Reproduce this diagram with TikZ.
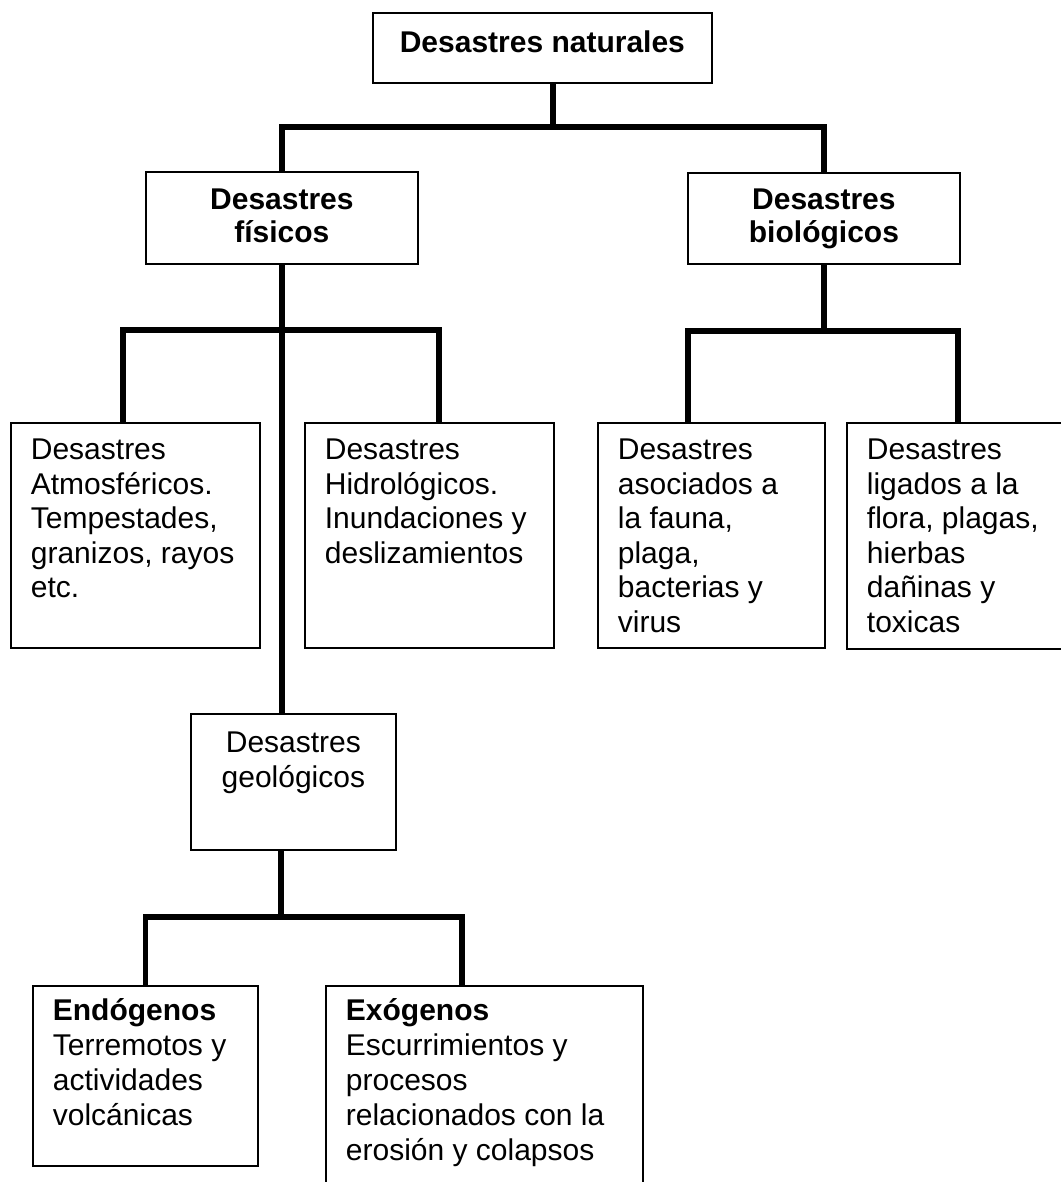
\documentclass[tikz,border=0pt]{standalone}
\usepackage{fontspec}
\setmainfont{Liberation Sans}
\newcommand{\boxtextL}[4]{\parbox[c][#2pt][t]{#1pt}{\raggedright\leftskip=20pt\rule{0pt}{#3pt}#4}}
\newcommand{\boxtextC}[4]{\parbox[c][#2pt][t]{#1pt}{\centering\rule{0pt}{#3pt}#4}}
\begin{document}
\begin{tikzpicture}[x=1pt,y=-1pt,
  every node/.style={font=\fontsize{30}{34.5}\selectfont},
  box/.style={draw, line width=1.8pt, inner sep=0pt, anchor=north west},
  conn/.style={line width=5.5pt, line join=miter}]
\useasboundingbox (0,0) rectangle (1060,1182);
\fill[white] (0,0) rectangle (1060,1182);

% boxes
\node[box] (top) at (372,12) {\boxtextC{339}{70}{40}{\bfseries Desastres naturales}};
\node[box] (fis) at (145,171) {\boxtextC{272}{92}{38}{\bfseries\baselineskip=33pt Desastres\\ físicos}};
\node[box] (bio) at (687,172) {\boxtextC{272}{91}{37}{\bfseries\baselineskip=33pt Desastres\\ biológicos}};
\node[box] (atm) at (10,422) {\boxtextL{249}{225}{37}{Desastres\\ Atmosféricos.\\ Tempestades,\\ granizos, rayos\\ etc.}};
\node[box] (hid) at (304,422) {\boxtextL{249}{225}{37}{Desastres\\ Hidrológicos.\\ Inundaciones y\\ deslizamientos}};
\node[box] (fau) at (597,422) {\boxtextL{227}{225}{37}{Desastres\\ asociados a\\ la fauna,\\ plaga,\\ bacterias y\\ virus}};
\node[box] (flo) at (846,422) {\boxtextL{232}{226}{37}{Desastres\\ ligados a la\\ flora, plagas,\\ hierbas\\ dañinas y\\ toxicas}};
\node[box] (geo) at (190,713) {\boxtextC{205}{136}{39}{\baselineskip=35pt Desastres\\ geológicos}};
\node[box] (endo) at (32,985) {\boxtextL{225}{180}{35}{\baselineskip=35pt\textbf{Endógenos}\\ Terremotos y\\ actividades\\ volcánicas}};
\node[box] (exo) at (325,985) {\boxtextL{317}{225}{35}{\baselineskip=35pt\textbf{Exógenos}\\ Escurrimientos y\\ procesos\\ relacionados con la\\ erosión y colapsos}};

% junction coordinates
\coordinate (j0) at (553,127);
\coordinate (a1) at (123,330);
\coordinate (h1) at (439,330);
\coordinate (b0) at (823,331);
\coordinate (f1) at (688,331);
\coordinate (f2) at (958,331);
\coordinate (g0) at (281,917);
\coordinate (g2) at (462,917);

% connectors
\draw[conn] (top.south -| j0) -- (j0);
\draw[conn] (fis.north) |- (j0);
\draw[conn] (j0) -| (bio.north);
\draw[conn] (fis.south) -- (fis.south |- geo.north);
\draw[conn] (atm.north -| a1) -- (a1) -- (h1) -- (hid.north -| h1);
\draw[conn] (bio.south) -- (bio.south |- b0);
\draw[conn] (fau.north -| f1) -- (f1) -- (f2) -- (flo.north -| f2);
\draw[conn] (geo.south -| g0) -- (g0);
\draw[conn] (endo.north) |- (g0) -- (g2) -- (exo.north -| g2);
\end{tikzpicture}
\end{document}
